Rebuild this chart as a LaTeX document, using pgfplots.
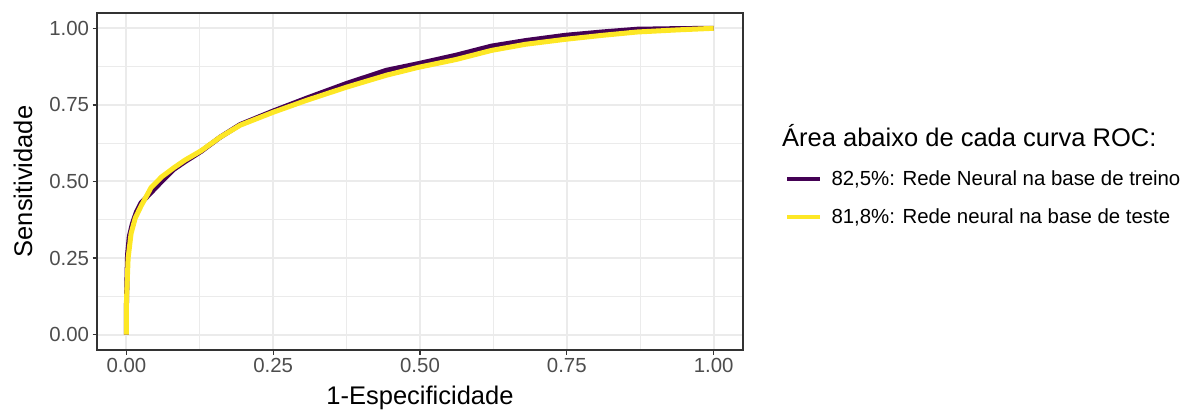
\documentclass[border=0pt]{standalone}
\usepackage{pgfplots}
\pgfplotsset{compat=1.18}
\usepackage{pgfplotstable}
\usepackage{fontspec}
\setmainfont{Liberation Sans}

\definecolor{treino}{HTML}{440154}
\definecolor{teste}{HTML}{FDE725}
\definecolor{gridc}{HTML}{EBEBEB}
\definecolor{tickc}{HTML}{4D4D4D}
\definecolor{framec}{HTML}{333333}

% ROC curve, training set (1-specificity, sensitivity)
\pgfplotstableread{
fpr   tpr
0     0
0.000 0.08
0.001 0.18
0.002 0.26
0.005 0.32
0.010 0.36
0.017 0.40
0.025 0.43
0.035 0.45
0.045 0.47
0.060 0.50
0.081 0.54
0.100 0.565
0.127 0.598
0.160 0.645
0.194 0.686
0.250 0.730
0.307 0.772
0.375 0.820
0.443 0.863
0.498 0.885
0.561 0.912
0.622 0.942
0.680 0.960
0.747 0.977
0.810 0.988
0.870 0.997
0.940 0.999
1     1
}\treino

% ROC curve, test set
\pgfplotstableread{
fpr   tpr
0     0
0.000 0.10
0.002 0.20
0.003 0.25
0.008 0.33
0.015 0.38
0.025 0.42
0.035 0.455
0.042 0.48
0.060 0.515
0.081 0.545
0.100 0.57
0.127 0.60
0.160 0.645
0.194 0.684
0.250 0.726
0.307 0.765
0.375 0.808
0.443 0.847
0.498 0.873
0.561 0.898
0.622 0.928
0.680 0.948
0.747 0.964
0.810 0.977
0.870 0.988
0.940 0.995
1     1
}\teste

\begin{document}
\begin{tikzpicture}
\path[use as bounding box] (0pt,0pt) rectangle (1188pt,412pt);
\begin{axis}[
    at={(97pt,62pt)}, anchor=south west,
    width=646pt, height=337pt, scale only axis,
    xmin=-0.05, xmax=1.05, ymin=-0.05, ymax=1.05,
    xtick={0,0.25,0.5,0.75,1}, ytick={0,0.25,0.5,0.75,1},
    minor xtick={0.125,0.375,0.625,0.875},
    minor ytick={0.125,0.375,0.625,0.875},
    xticklabel style={/pgf/number format/.cd,fixed,fixed zerofill,precision=2},
    yticklabel style={/pgf/number format/.cd,fixed,fixed zerofill,precision=2},
    /pgf/number format/assume math mode=true,
    ticklabel style={font=\fontsize{20.4}{24}\selectfont, text=tickc},
    tick align=outside, major tick length=4.5pt, minor tick length=0pt,
    tick style={framec, line width=1.2pt},
    xtick pos=bottom, ytick pos=left,
    grid=both,
    major grid style={gridc, line width=2pt},
    minor grid style={gridc, line width=1pt},
    axis line style={framec, line width=1.2pt},
    xlabel={1-Especificidade},
    ylabel={Sensitividade},
    label style={font=\fontsize{25.5}{30}\selectfont},
    xlabel style={at={(axis description cs:0.5,-0.163)}, anchor=base},
    ylabel style={at={(axis description cs:-0.1006,0.5)}, anchor=base},
    legend image code/.code={\draw[#1, line width=4.5pt] (0pt,0pt) -- (33pt,0pt);},
    legend style={at={(axis description cs:1.065,0.451)}, anchor=west,
        draw=none, fill=none, inner sep=0pt, outer sep=0pt,
        font=\fontsize{20.4}{24}\selectfont,
        nodes={inner sep=0pt}, column sep=9pt, row sep=22pt},
    legend cell align=left,
    clip=false,
]
\addplot[treino, line width=5pt, line join=round] table[x=fpr, y=tpr] {\treino};
\addlegendentry{82,5\%: Rede Neural na base de treino}
\addplot[teste, line width=5pt, line join=round] table[x=fpr, y=tpr] {\teste};
\addlegendentry{81,8\%: Rede neural na base de teste}
\node[anchor=base west, inner sep=0pt, font=\fontsize{25.5}{30}\selectfont]
    at (axis description cs:1.0604,0.605) {Área abaixo de cada curva ROC:};
\end{axis}
\end{tikzpicture}
\end{document}
